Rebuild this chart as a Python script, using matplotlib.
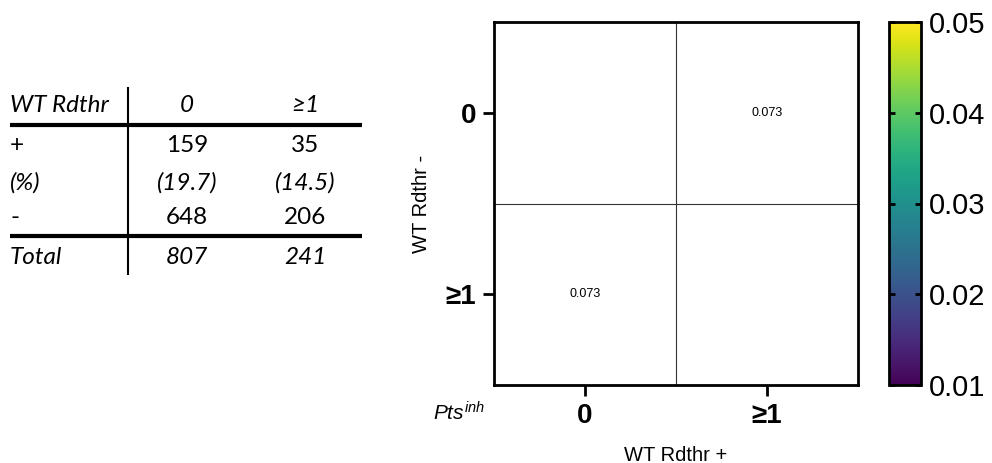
import numpy as np
import matplotlib
matplotlib.use("Agg")
import matplotlib.pyplot as plt
from matplotlib.colors import Normalize

plt.rcParams['font.family'] = ['Liberation Sans', 'DejaVu Sans']
plt.rcParams['mathtext.fontset'] = 'custom'
plt.rcParams['mathtext.it'] = 'Liberation Sans:italic'
plt.rcParams['mathtext.rm'] = 'Liberation Sans'

# ---- data ----
table_cols = ["0", "≥1"]
plus_counts = [159, 35]
pct = [19.7, 14.5]
minus_counts = [648, 206]
totals = [807, 241]

x_cats = ["0", "≥1"]
y_cats = ["0", "≥1"]
pvals = np.array([[np.nan, 0.073],
                  [0.073, np.nan]])
cbar_ticks = [0.01, 0.02, 0.03, 0.04, 0.05]

W, H = 992, 463
fig = plt.figure(figsize=(W / 100, H / 100), dpi=100)

# ---- table (left) ----
tax = fig.add_axes([0, 0, 1, 1])
tax.set_xlim(0, W)
tax.set_ylim(H, 0)
tax.axis('off')
tfont = ['Lato', 'DejaVu Sans']
fs = 17.5
col_x = [187, 305]
rows_y = [105, 146, 183, 218, 258]
tax.text(10, rows_y[0], "WT Rdthr", style='italic', fontsize=fs, va='center', ha='left', family=tfont)
tax.text(10, rows_y[1], "+", fontsize=fs, va='center', ha='left', family=tfont)
tax.text(10, rows_y[2], "(%)", style='italic', fontsize=fs, va='center', ha='left', family=tfont)
tax.text(10, rows_y[3], "-", fontsize=fs, va='center', ha='left', family=tfont)
tax.text(10, rows_y[4], "Total", style='italic', fontsize=fs, va='center', ha='left', family=tfont)
for i, cx in enumerate(col_x):
    tax.text(cx, rows_y[0], table_cols[i], style='italic', fontsize=fs, va='center', ha='center', family=tfont)
    tax.text(cx, rows_y[1], str(plus_counts[i]), fontsize=fs, va='center', ha='center', family=tfont)
    tax.text(cx, rows_y[2], f"({pct[i]:.1f})", style='italic', fontsize=fs, va='center', ha='center', family=tfont)
    tax.text(cx, rows_y[3], str(minus_counts[i]), fontsize=fs, va='center', ha='center', family=tfont)
    tax.text(cx, rows_y[4], str(totals[i]), style='italic', fontsize=fs, va='center', ha='center', family=tfont)
tax.plot([10, 362], [125, 125], color='black', lw=3, solid_capstyle='butt')
tax.plot([10, 362], [236, 236], color='black', lw=3, solid_capstyle='butt')
tax.plot([128, 128], [87, 275], color='black', lw=1.5, solid_capstyle='butt')

# ---- heatmap ----
ax = fig.add_axes([494 / W, (H - 385) / H, 364 / W, 363 / H])
cmap = plt.get_cmap('viridis').copy()
cmap.set_over('white')
cmap.set_bad('white')
norm = Normalize(vmin=0.01, vmax=0.05)
im = ax.imshow(pvals, cmap=cmap, norm=norm, aspect='auto',
               extent=(-0.5, len(x_cats) - 0.5, len(y_cats) - 0.5, -0.5))
for i in range(len(y_cats)):
    for j in range(len(x_cats)):
        v = pvals[i, j]
        if not np.isnan(v):
            ax.text(j, i, f"{v:.3f}", ha='center', va='center', fontsize=9)
for k in range(1, len(x_cats)):
    ax.axvline(k - 0.5, color='#333333', lw=0.8)
for k in range(1, len(y_cats)):
    ax.axhline(k - 0.5, color='#333333', lw=0.8)
ax.set_xticks(range(len(x_cats)))
ax.set_xticklabels(x_cats, fontsize=20, fontweight='bold')
ax.set_yticks(range(len(y_cats)))
ax.set_yticklabels(y_cats, fontsize=20, fontweight='bold')
ax.tick_params(direction='out', length=8, width=2, pad=5)
for s in ax.spines.values():
    s.set_linewidth(2)
ax.set_xlabel("WT Rdthr +", fontsize=14.5, labelpad=12)
ax.set_ylabel("WT Rdthr -", fontsize=14.5, labelpad=10)
fig.text(485 / W, (H - 413) / H, r"$\mathit{Pts}^{\mathit{inh}}$", fontsize=15, ha='right', va='center')

# ---- colorbar ----
cax = fig.add_axes([889 / W, (H - 385) / H, 32 / W, 363 / H])
cb = fig.colorbar(im, cax=cax, ticks=cbar_ticks, extend='neither')
cb.outline.set_linewidth(2)
cax.tick_params(direction='in', left=True, right=True, length=4, width=2, labelsize=21, pad=6)
cb.ax.set_yticklabels([f"{t:.2f}" for t in cbar_ticks])

fig.savefig("out.png", dpi=100)
